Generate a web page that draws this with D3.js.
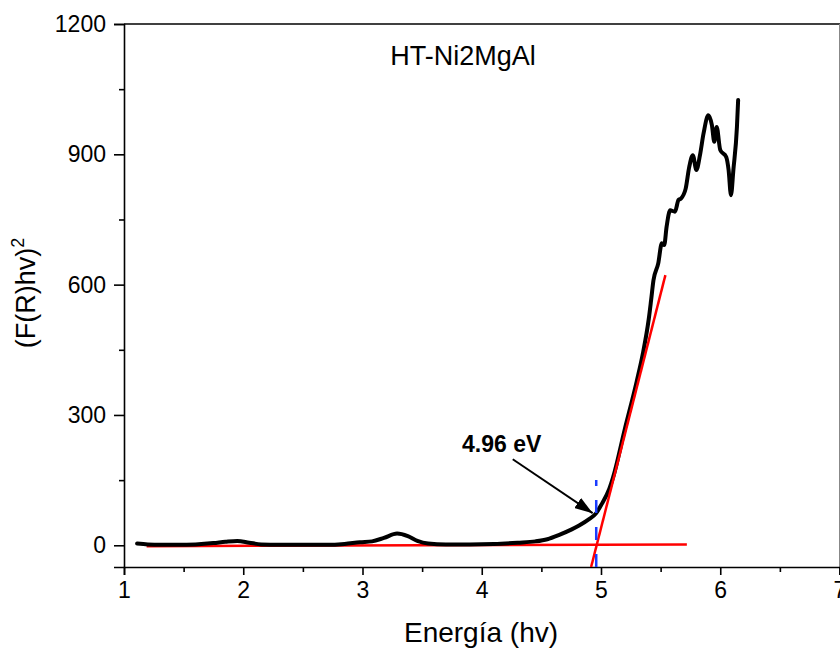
<!DOCTYPE html>
<html>
<head>
<meta charset="utf-8">
<script src="https://cdn.jsdelivr.net/npm/d3@7"></script>
<style>
  html, body { margin: 0; padding: 0; background: #fff; }
  svg { display: block; font-family: "Liberation Sans", Arial, sans-serif; }
</style>
</head>
<body>
<svg id="chart" width="840" height="650"></svg>
<script>
// ---- data ----
const energy = [1.11,1.2,1.3,1.45,1.6,1.75,1.85,1.95,2.05,2.15,2.3,2.5,2.7,2.85,2.98,3.08,3.18,3.29,3.38,3.46,3.55,3.7,3.9,4.1,4.3,4.45,4.55,4.65,4.75,4.82,4.9,4.96,5.0,5.07,5.1,5.2,5.3,5.35,5.4,5.42,5.44,5.48,5.51,5.53,5.55,5.58,5.62,5.65,5.67,5.71,5.74,5.77,5.80,5.83,5.86,5.90,5.93,5.95,5.97,6.00,6.05,6.07,6.09,6.11,6.14,6.15];
const fr2 = [4,2,1,1,2,5,8,10,6,2,1,1,1,3,7,9,17,27,21,10,4,2,2,3,6,9,14,24,36,46,60,74,92,130,155,268,378,440,520,564,610,649,695,691,733,771,768,795,798,821,871,898,864,898,948,990,967,929,963,910,894,864,806,864,963,1025];
const baselineX = [1.19, 5.72];
const baselineY = [-2, 2];
const tangentX = [4.917, 5.54];
const tangentY = [-50, 622];
const bandGapX = [4.96, 4.96];
const bandGapY = [-50, 150];
const arrowX = [4.26, 4.93];
const arrowY = [198, 74];
const annotation = "4.96 eV";
const title = "HT-Ni2MgAl";
const xTicks = [1,2,3,4,5,6,7];
const yTicks = [0,300,600,900,1200];
const xMinor = [1.5,2.5,3.5,4.5,5.5,6.5];
const yMinor = [150,450,750,1050];

// ---- layout ----
const svg = d3.select("#chart");
const L = 124, R = 839.5, T = 24, B = 567;
const x = d3.scaleLinear().domain([1,7]).range([L,R]);
const y = d3.scaleLinear().domain([-50,1200]).range([B,T]);

// frame (top & right)
svg.append("line").attr("x1",L).attr("x2",R+1).attr("y1",T).attr("y2",T)
  .attr("stroke","#000").attr("stroke-width",1.6);
svg.append("line").attr("x1",R).attr("x2",R).attr("y1",T).attr("y2",B)
  .attr("stroke","#888").attr("stroke-width",1);

// axes
const xAxis = d3.axisBottom(x).tickValues(xTicks).tickFormat(d3.format("d")).tickSizeOuter(0).tickSize(8).tickPadding(7);
const gx = svg.append("g").attr("transform",`translate(0,${B})`).call(xAxis);
gx.selectAll("text").attr("font-size",23).attr("fill","#000").attr("font-family","Liberation Sans, Arial, sans-serif");
gx.selectAll("line").attr("stroke-width",1.6);
gx.select(".domain").attr("stroke-width",1.6);
const gxm = svg.append("g").attr("transform",`translate(0,${B})`)
  .call(d3.axisBottom(x).tickValues(xMinor).tickFormat("").tickSize(5).tickSizeOuter(0));
gxm.select(".domain").remove();
gxm.selectAll("line").attr("stroke-width",1.6);

const yAxis = d3.axisLeft(y).tickValues(yTicks).tickFormat(d3.format("d")).tickSizeOuter(0).tickSize(10).tickPadding(8);
const gy = svg.append("g").attr("transform",`translate(${L},0)`).call(yAxis);
gy.selectAll("text").attr("font-size",23).attr("fill","#000").attr("font-family","Liberation Sans, Arial, sans-serif");
gy.selectAll("line").attr("stroke-width",1.6);
gy.select(".domain").attr("stroke-width",1.6);
const gym = svg.append("g").attr("transform",`translate(${L},0)`)
  .call(d3.axisLeft(y).tickValues(yMinor).tickFormat("").tickSize(5).tickSizeOuter(0));
gym.select(".domain").remove();
gym.selectAll("line").attr("stroke-width",1.6);

// clip
svg.append("defs").append("clipPath").attr("id","clip")
  .append("rect").attr("x",L).attr("y",T).attr("width",R-L).attr("height",B-T);
const plot = svg.append("g").attr("clip-path","url(#clip)");

const pts = (xs, ys) => xs.map((v,i)=>[v, ys[i]]);
const line = d3.line().x(d=>x(d[0])).y(d=>y(d[1]));

// baseline (red)
plot.append("path").datum(pts(baselineX, baselineY)).attr("d",line)
  .attr("fill","none").attr("stroke","#ff0000").attr("stroke-width",2.5);

// data curve
plot.append("path").datum(pts(energy, fr2))
  .attr("d", d3.line().x(d=>x(d[0])).y(d=>y(d[1])).curve(d3.curveMonotoneX))
  .attr("fill","none").attr("stroke","#000").attr("stroke-width",4)
  .attr("stroke-linejoin","round").attr("stroke-linecap","round");

// tangent (red)
plot.append("path").datum(pts(tangentX, tangentY)).attr("d",line)
  .attr("fill","none").attr("stroke","#ff0000").attr("stroke-width",2.5);

// band gap dashed (blue)
plot.append("path").datum(pts(bandGapX, bandGapY)).attr("d",line)
  .attr("fill","none").attr("stroke","#1a3cff").attr("stroke-width",2.5)
  .attr("stroke-dasharray","13,14").attr("stroke-dashoffset", 0);

// arrow
const defs = svg.select("defs");
defs.append("marker").attr("id","arrowhead")
  .attr("markerUnits","userSpaceOnUse").attr("orient","auto")
  .attr("viewBox","0 0 18 12").attr("refX",18).attr("refY",6)
  .attr("markerWidth",18).attr("markerHeight",12)
  .append("path").attr("d","M0,0 L18,6 L0,12 Z").attr("fill","#000");
svg.append("line")
  .attr("x1",x(arrowX[0])).attr("y1",y(arrowY[0]))
  .attr("x2",x(arrowX[1])).attr("y2",y(arrowY[1]))
  .attr("stroke","#000").attr("stroke-width",2).attr("marker-end","url(#arrowhead)");

svg.append("text").attr("x",462).attr("y",452).attr("font-size",23).attr("font-weight","bold")
  .attr("fill","#000").text(annotation);

// title
svg.append("text").attr("x",463).attr("y",65).attr("text-anchor","middle")
  .attr("font-size",27).attr("fill","#000").text(title);

// axis titles
svg.append("text").attr("x",481).attr("y",642).attr("text-anchor","middle")
  .attr("font-size",28).attr("fill","#000").text("Energía (hv)");
const yl = svg.append("text").attr("transform","translate(35,293) rotate(-90)")
  .attr("text-anchor","middle").attr("font-size",27).attr("fill","#000");
yl.append("tspan").text("(F(R)hv)");
yl.append("tspan").attr("dy",-11).attr("font-size",18).text("2");
</script>
</body>
</html>
